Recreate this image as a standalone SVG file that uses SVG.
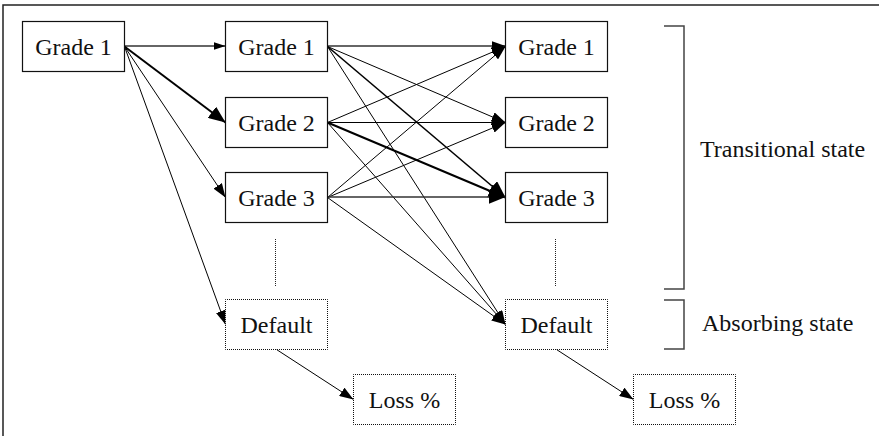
<svg xmlns="http://www.w3.org/2000/svg" width="879" height="436" viewBox="0 0 879 436">
<style>
  text { font-family: "Liberation Serif", "Times New Roman", serif; font-size: 24px; fill: #111; }
  .mid { text-anchor: middle; }
  .box { fill: #fff; stroke: #111; stroke-width: 1.2; }
  .dbox { fill: #fff; stroke: #111; stroke-width: 1; stroke-dasharray: 1 1; stroke-dashoffset: 0.5; }
  .dot { stroke: #222; stroke-width: 1; stroke-dasharray: 1 1; fill: none; }
  .e { fill: none; stroke: #000; stroke-width: 1; }
  .e13 { stroke-width: 1.3; stroke: #333; }
  .e15 { stroke-width: 1.6; }
  .e2 { stroke-width: 2; }
  .frame { fill: none; stroke: #222; stroke-width: 1.5; }
  .brk { fill: none; stroke: #444; stroke-width: 1.5; }
</style>
<defs>
  <marker id="as" viewBox="0 0 12 8" refX="12" refY="4" markerWidth="12" markerHeight="8" orient="auto" markerUnits="userSpaceOnUse"><path d="M0,0 L12,4 L0,8 z" fill="#000"/></marker>
  <marker id="am" viewBox="0 0 14 10" refX="14" refY="5" markerWidth="14" markerHeight="10" orient="auto" markerUnits="userSpaceOnUse"><path d="M0,0 L14,5 L0,10 z" fill="#000"/></marker>
  <marker id="al" viewBox="0 0 17 14" refX="17" refY="7" markerWidth="17" markerHeight="14" orient="auto" markerUnits="userSpaceOnUse"><path d="M0,0 L17,7 L0,14 z" fill="#000"/></marker>
</defs>

<g id="frame">
  <path class="frame" d="M3,436 V5 H879"/>
</g>

<g id="connectors">
  <line class="e e13" x1="124.5" y1="46" x2="225.5" y2="46" marker-end="url(#as)"/>
  <line class="e e2" x1="124.5" y1="46.5" x2="225.5" y2="122.5" marker-end="url(#al)"/>
  <line class="e" x1="124.5" y1="46.5" x2="225.5" y2="197.5" marker-end="url(#am)"/>
  <line class="e" x1="124.5" y1="46.5" x2="225.5" y2="324.5" marker-end="url(#am)"/>
  <line class="e e13" x1="327.5" y1="46" x2="505.5" y2="46" marker-end="url(#am)"/>
  <line class="e" x1="327.5" y1="46.5" x2="505.5" y2="122.5" marker-end="url(#am)"/>
  <line class="e e15" x1="327.5" y1="46.5" x2="505.5" y2="197.5" marker-end="url(#al)"/>
  <line class="e" x1="327.5" y1="46.5" x2="505.5" y2="324.5" marker-end="url(#am)"/>
  <line class="e" x1="327.5" y1="122.5" x2="505.5" y2="46.5" marker-end="url(#am)"/>
  <line class="e" x1="327.5" y1="122.5" x2="505.5" y2="122.5" marker-end="url(#am)"/>
  <line class="e e2" x1="327.5" y1="122.5" x2="505.5" y2="197.5" marker-end="url(#al)"/>
  <line class="e" x1="327.5" y1="122.5" x2="505.5" y2="324.5" marker-end="url(#am)"/>
  <line class="e" x1="327.5" y1="197.5" x2="505.5" y2="46.5" marker-end="url(#am)"/>
  <line class="e" x1="327.5" y1="197.5" x2="505.5" y2="122.5" marker-end="url(#am)"/>
  <line class="e e13" x1="327.5" y1="197" x2="505.5" y2="197" marker-end="url(#al)"/>
  <line class="e" x1="327.5" y1="197.5" x2="505.5" y2="324.5" marker-end="url(#am)"/>
  <line class="e" x1="276.5" y1="349.5" x2="353.5" y2="399.5" marker-end="url(#am)"/>
  <line class="e" x1="556.5" y1="349.5" x2="633.5" y2="399.5" marker-end="url(#am)"/>
  <line class="dot" x1="275.5" y1="239" x2="275.5" y2="287"/>
  <line class="dot" x1="555.5" y1="239" x2="555.5" y2="287"/>
</g>

<g id="n-start">
  <rect class="box" x="22.5" y="21.5" width="102" height="50"/>
  <text class="mid" x="73.5" y="55">Grade 1</text>
</g>

<g id="n-a-g1">
  <rect class="box" x="225.5" y="21.5" width="102" height="50"/>
  <text class="mid" x="276.5" y="55">Grade 1</text>
</g>
<g id="n-a-g2">
  <rect class="box" x="225.5" y="97.5" width="102" height="50"/>
  <text class="mid" x="276.5" y="131">Grade 2</text>
</g>
<g id="n-a-g3">
  <rect class="box" x="225.5" y="172.5" width="102" height="50"/>
  <text class="mid" x="276.5" y="206">Grade 3</text>
</g>
<g id="n-a-default">
  <rect class="dbox" x="225.5" y="299.5" width="102" height="50"/>
  <text class="mid" x="276.5" y="333">Default</text>
</g>
<g id="n-a-loss">
  <rect class="dbox" x="353.5" y="374.5" width="102" height="50"/>
  <text class="mid" x="404.5" y="408">Loss %</text>
</g>

<g id="n-b-g1">
  <rect class="box" x="505.5" y="21.5" width="102" height="50"/>
  <text class="mid" x="556.5" y="55">Grade 1</text>
</g>
<g id="n-b-g2">
  <rect class="box" x="505.5" y="97.5" width="102" height="50"/>
  <text class="mid" x="556.5" y="131">Grade 2</text>
</g>
<g id="n-b-g3">
  <rect class="box" x="505.5" y="172.5" width="102" height="50"/>
  <text class="mid" x="556.5" y="206">Grade 3</text>
</g>
<g id="n-b-default">
  <rect class="dbox" x="505.5" y="299.5" width="102" height="50"/>
  <text class="mid" x="556.5" y="333">Default</text>
</g>
<g id="n-b-loss">
  <rect class="dbox" x="633.5" y="374.5" width="102" height="50"/>
  <text class="mid" x="684.5" y="408">Loss %</text>
</g>

<g id="bracket-transitional">
  <path class="brk" d="M664,26 H684 V289 H664"/>
  <text x="700" y="157">Transitional state</text>
</g>
<g id="bracket-absorbing">
  <path class="brk" d="M664,300 H684 V349 H664"/>
  <text x="702" y="331">Absorbing state</text>
</g>
</svg>
